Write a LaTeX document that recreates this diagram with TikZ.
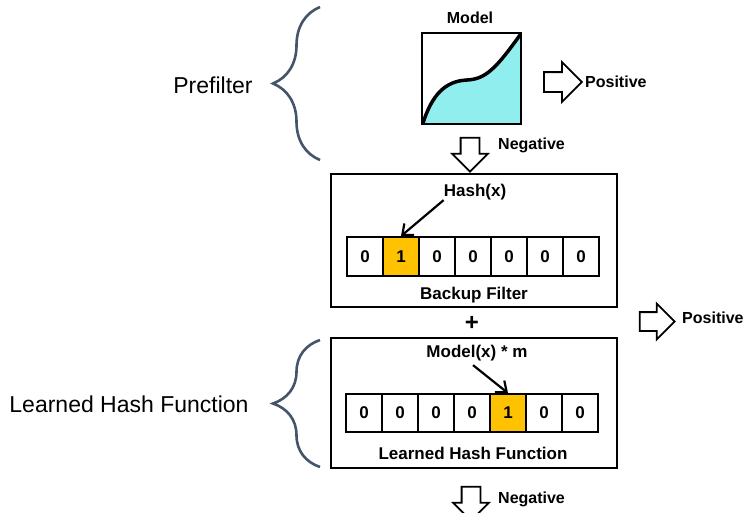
\documentclass[tikz,border=0pt]{standalone}
\usepackage{fontspec}
\setmainfont{Liberation Sans}
\usetikzlibrary{arrows.meta, positioning, shapes.arrows, decorations.pathreplacing}
\definecolor{modelcyan}{RGB}{145,238,238}
\definecolor{hitgold}{RGB}{255,194,0}
\definecolor{bracegray}{RGB}{68,84,106}

\begin{document}
\begin{tikzpicture}[x=1pt, y=-1pt, >={Straight Barb[length=9pt, width=15pt]},
    every node/.style={inner sep=0pt},
    boldtext/.style={font=\bfseries\fontsize{17}{20}\selectfont},
    outtext/.style={font=\bfseries\fontsize{16}{19}\selectfont},
    sidetext/.style={font=\fontsize{23}{27}\selectfont},
    cell/.style={draw, line width=1.8pt, minimum width=36pt, minimum height=39pt, boldtext},
    hit/.style={cell, fill=hitgold},
    filterbox/.style={draw, line width=2.4pt, minimum width=286pt},
    bigarrow/.style={single arrow, draw, line width=1.8pt, inner xsep=0pt, inner ysep=8.5pt,
        minimum height=35pt, single arrow head extend=8.5pt},
    downarrow/.style={bigarrow, shape border rotate=270, inner xsep=8.5pt, inner ysep=0pt},
    brace line/.style={draw=bracegray, line width=2.6pt, decorate, decoration={brace, amplitude=47pt}}]
    \useasboundingbox (0,0) rectangle (744,512);

    % Prefilter
    \node[outtext] (modeltitle) at (470,18) {Model};
    \fill[modelcyan] (423,123) .. controls (432,95) and (445,81) .. (467,80)
        .. controls (485,79) and (495,70) .. (520,35) -- (521,124) -- cycle;
    \draw[line width=3.5pt, line cap=round] (423,123) .. controls (432,95) and (445,81) .. (467,80)
        .. controls (485,79) and (495,70) .. (520,35);
    \node[draw, line width=2.6pt, minimum width=99pt, minimum height=91pt] (model) at (471.5,78.5) {};
    \node[bigarrow, inner ysep=9pt, minimum height=38pt, single arrow head extend=10pt] (posA) at (558,82) {};
    \node[outtext, anchor=west] (posAtext) at (585,82) {Positive};
    \node[downarrow, minimum height=34pt] (negA) at (470,150) {};
    \node[outtext, anchor=west] (negAtext) at (498,145) {Negative};

    % Backup filter
    \node[filterbox, minimum height=133pt] (backup) at (474,240.5) {};
    \node[boldtext] (hash) at (475,192) {Hash(x)};
    \foreach \v/\s [count=\i] in {0/cell,1/hit,0/cell,0/cell,0/cell,0/cell,0/cell}
        \node[\s] (bf\i) at (329+36*\i, 256.5) {\v};
    \node[boldtext] (backuptext) at (474,295) {Backup Filter};
    \node[font=\bfseries\fontsize{24}{24}\selectfont] (plus) at (472,323) {+};

    % Learned hash function
    \node[filterbox, minimum height=130pt] (learned) at (474,403) {};
    \node[boldtext] (mx) at (477,353) {Model(x) * m};
    \foreach \v/\s [count=\i] in {0/cell,0/cell,0/cell,0/cell,1/hit,0/cell,0/cell}
        \node[\s, minimum height=38pt] (lh\i) at (328+36*\i, 413) {\v};
    \node[boldtext] (learnedtext) at (473,453) {Learned Hash Function};
    \node[bigarrow] (posB) at (652.5,321.5) {};
    \node[outtext, anchor=west] (posBtext) at (682,318) {Positive};
    \node[downarrow, minimum height=34pt] (negB) at (471,499) {};
    \node[outtext, anchor=west] (negBtext) at (498,499) {Negative};

    % Braces
    \draw[brace line] (320,160) -- (320,7);
    \node[sidetext] (prefilter) at (213,85) {Prefilter};
    \draw[brace line] (320,467) -- (320,340);
    \node[sidetext] (lhf) at (129,404) {Learned Hash Function};

    % Edges
    \draw[->, line width=2.2pt] (hash.south west) -- (bf2.north);
    \draw[->, line width=2.2pt] ([xshift=-4pt, yshift=-4pt]mx.south) -- (lh5.north);
\end{tikzpicture}
\end{document}
